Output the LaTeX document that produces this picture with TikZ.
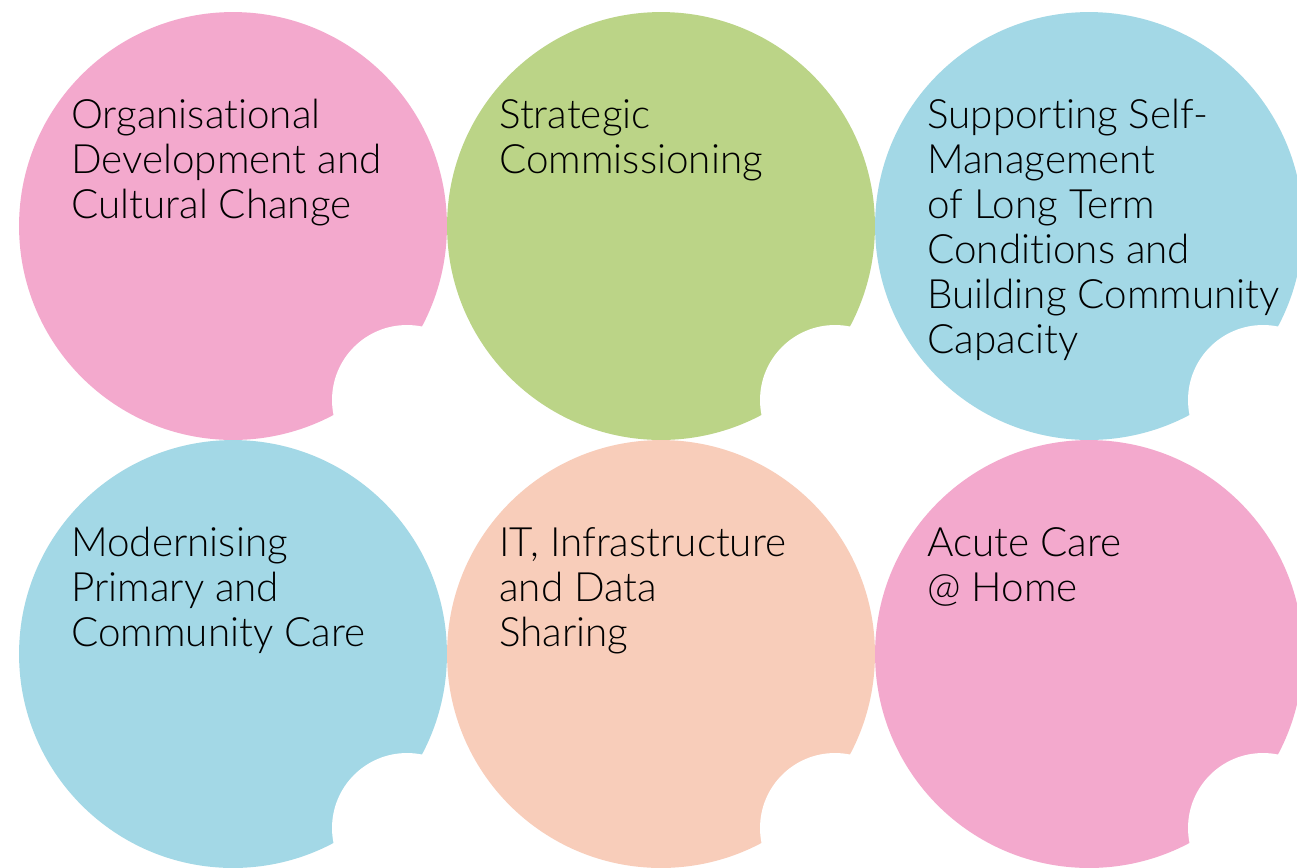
\documentclass[tikz,border=0pt]{standalone}
\usepackage{fontspec}
\setmainfont{Lato}[UprightFont=* Light, Ligatures={NoCommon}]
\definecolor{pinkc}{HTML}{F3A9CD}
\definecolor{greenc}{HTML}{BBD487}
\definecolor{bluec}{HTML}{A3D8E6}
\definecolor{peachc}{HTML}{F8CDBA}
\tikzset{
  bubble/.style={circle, inner sep=0pt, minimum size=8.56cm, draw=none},
  bite/.style={circle, inner sep=0pt, minimum size=3cm, fill=white, draw=none},
  label/.style={anchor=base west, inner sep=0pt, align=left, text=black,
    font=\fontsize{23}{25.6}\selectfont}
}
\begin{document}
\begin{tikzpicture}[x=0.02cm,y=-0.02cm]
\useasboundingbox (0,0) rectangle (1297,867);
\fill[white] (0,0) rectangle (1297,867);
\begin{scope}
\clip (0,0) rectangle (1297,867);
\node[bubble, fill=pinkc]  (c1) at (233,226) {};
\node[bubble, fill=greenc] (c2) at (661,226) {};
\node[bubble, fill=bluec]  (c3) at (1089,226) {};
\node[bubble, fill=bluec]  (c4) at (233,654) {};
\node[bubble, fill=peachc] (c5) at (661,654) {};
\node[bubble, fill=pinkc]  (c6) at (1089,654) {};
\node[bite] (b1) at (407,400) {};
\node[bite] (b2) at (835,400) {};
\node[bite] (b3) at (1263,400) {};
\node[bite] (b4) at (407,828) {};
\node[bite] (b5) at (835,828) {};
\node[bite] (b6) at (1263,828) {};
\end{scope}
% base anchor of a multi-line node lies on its last line
\node[label] (t1) at (71,218) {Organisational\\Development and\\Cultural Change};
\node[label] (t2) at (499,173) {Strategic\\Commissioning};
\node[label] (t3) at (927,353) {Supporting Self-\\Management\\of Long Term\\Conditions and\\Building Community\\Capacity};
\node[label] (t4) at (71,646) {Modernising\\Primary and\\Community Care};
\node[label] (t5) at (499,646) {IT, Infrastructure\\and Data\\Sharing};
\node[label] (t6) at (927,601) {Acute Care\\@ Home};
\end{tikzpicture}
\end{document}
